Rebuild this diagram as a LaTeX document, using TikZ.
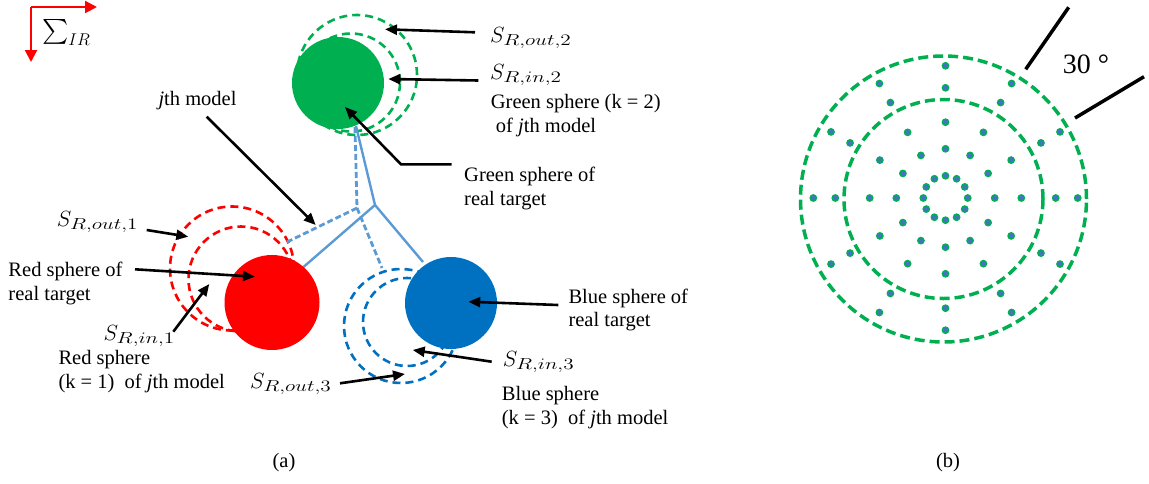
\RequirePackage{fix-cm}
\documentclass[tikz,border=0pt]{standalone}
\usepackage{exscale}
\usepackage[no-math]{fontspec}
\setmainfont{Liberation Serif}
\usetikzlibrary{arrows.meta,calc}

\DeclareMathSizes{22}{22}{16}{11}
\DeclareMathSizes{28}{28}{17}{12}

\definecolor{sgreen}{HTML}{00B050}
\definecolor{sred}{HTML}{FF0000}
\definecolor{sblue}{HTML}{0070C0}
\definecolor{linkblue}{HTML}{5B9BD5}
\definecolor{dotblue}{HTML}{4472C4}

% shell label S_{R,...} with a widened subscript
\newcommand{\shelllab}[1]{$S_{\scalebox{1.33}[1]{$\scriptstyle #1$}}$}

\tikzset{
  txt/.style={inner sep=0pt, anchor=base west, align=left,
    font=\fontsize{20.5}{23.8}\selectfont},
  mlab/.style={inner sep=0pt, anchor=base west, font=\fontsize{22}{26}\selectfont},
  callout/.style={black, line width=2.6pt, -{Triangle[length=12pt,width=10pt]}},
  sphere/.style={circle, inner sep=0pt, minimum size=#1},
  shell/.style={line width=2.6pt, dash pattern=on 8pt off 5pt},
  link/.style={linkblue, line width=2.4pt},
  linkd/.style={linkblue, line width=2.8pt, dash pattern=on 6pt off 3pt},
  frameaxis/.style={sred, line width=2pt, -{Triangle[length=12pt,width=12pt]}},
  ring/.style={sgreen, line width=3.5pt, dash pattern=on 10pt off 5pt},
  pointmark/.style={fill=dotblue, draw=sgreen, line width=1.3pt},
  ray/.style={black, line width=3.5pt},
}

\begin{document}
\begin{tikzpicture}[x=1pt, y=-1pt]
\useasboundingbox (0,0) rectangle (1149,483);

% ---------- reference frame ----------
\coordinate (fo) at (31,7);
\coordinate (fx) at (97,7);
\coordinate (fy) at (31,62);
\draw[frameaxis] (fo) -- (fx);
\draw[frameaxis] (fo) -- (fy);
\node[inner sep=0pt, anchor=base west, font=\fontsize{28}{32}\selectfont] (sig) at (42,39) {$\sum_{IR}$};

% ---------- model shells (dashed) ----------
\draw[shell, sgreen] (357,75) circle (60pt);
\draw[shell, sgreen] (351,82.5) circle (49pt);
\draw[shell, sred] (232,268.5) circle (62pt);
\draw[shell, sred] (241,279) circle (52.5pt);
\draw[shell, sblue] (401,326) circle (57pt);
\draw[shell, sblue] (407,322) circle (44pt);

% ---------- model skeleton (dashed) and target skeleton (solid) ----------
\coordinate (mj) at (357,208);
\coordinate (mg) at (355,127);
\coordinate (mr) at (285,243);
\coordinate (mb) at (382,268);
\draw[linkd] (mg) -- (mj) -- (mr);
\draw[linkd] (mj) -- (mb);

\coordinate (tj) at (375,205);
\coordinate (tg) at (356,126);
\coordinate (tr) at (300,270);
\coordinate (tb) at (423,262);
\draw[link] (tg) -- (tj) -- (tr);
\draw[link] (tj) -- (tb);

% ---------- target spheres ----------
\node[sphere=92pt, fill=sgreen] (gs) at (338,83) {};
\node[sphere=95pt, fill=sred] (rs) at (272,302.5) {};
\node[sphere=92pt, fill=sblue] (bs) at (451,303) {};

% ---------- green labels ----------
\node[mlab] (gout) at (490,42) {\shelllab{R,out,2}};
\node[mlab] (gin) at (490,79.5) {\shelllab{R,in,2}};
\node[txt] (gmod) at (490.7,132.5) {Green sphere (k = 2)\\\hspace{5pt}of \textit{j}th model};
\node[txt] (greal) at (464,205) {Green sphere of\\real target};
\coordinate (goutA) at (475,32.3);  \coordinate (goutB) at (385,29.3);
\coordinate (ginA) at (478.3,80.5); \coordinate (ginB) at (388.3,79);
\coordinate (grA) at (451.7,164.3); \coordinate (grK) at (401,164.3); \coordinate (grB) at (345,107);
\draw[callout] (goutA) -- (goutB);
\draw[callout] (ginA) -- (ginB);
\draw[callout] (grA) -- (grK) -- (grB);

% ---------- j-th model label ----------
\node[txt] (jm) at (158.3,105) {\textit{j}th model};
\coordinate (jmA) at (206.7,116.7); \coordinate (jmB) at (315.7,225);
\draw[callout] (jmA) -- (jmB);

% ---------- red labels ----------
\node[mlab] (rout) at (56.7,226) {\shelllab{R,out,1}};
\node[mlab] (rin) at (103.3,340.5) {\shelllab{R,in,1}};
\node[txt] (rreal) at (8.3,300) {Red sphere of\\real target};
\node[txt] (rmod) at (58.3,388.5) {Red sphere\\(k = 1)\ \ of \textit{j}th model};
\coordinate (routA) at (146.7,230); \coordinate (routB) at (188.3,236.7);
\coordinate (rrA) at (135,269.3);   \coordinate (rrB) at (255,276.7);
\coordinate (rinA) at (173.3,331.7); \coordinate (rinB) at (209.3,284);
\draw[callout] (routA) -- (routB);
\draw[callout] (rrA) -- (rrB);
\draw[callout] (rinA) -- (rinB);

% ---------- blue labels ----------
\node[mlab] (bout) at (250,388) {\shelllab{R,out,3}};
\node[mlab] (bin) at (502.7,366) {\shelllab{R,in,3}};
\node[txt] (breal) at (568.3,326.8) {Blue sphere of\\real target};
\node[txt] (bmod) at (501.7,424.5) {Blue sphere\\(k = 3)\ \ of \textit{j}th model};
\coordinate (boutA) at (340,383.3); \coordinate (boutB) at (405,374);
\coordinate (brA) at (558.3,305);   \coordinate (brB) at (468.3,301.7);
\coordinate (binA) at (491.7,361.7); \coordinate (binB) at (412.7,350);
\draw[callout] (boutA) -- (boutB);
\draw[callout] (brA) -- (brB);
\draw[callout] (binA) -- (binB);

\node[font=\fontsize{20.5}{23.5}\selectfont, inner sep=0pt] (capa) at (284,463) {(a)};

% ---------- (b): sampling pattern ----------
\coordinate (rc) at (943.5,199);
\draw[ring] (rc) circle (143pt);
\draw[ring] (rc) circle (99.5pt);
\coordinate (dc) at (945.5,198);
\foreach \a in {0,30,...,330}
  \foreach \r in {22.2,49.2,75.8,110.2,132.2}
    \filldraw[pointmark] ($(dc)+(\a:\r)$) circle (3.2pt);

\coordinate (r1a) at (1025.7,69.3); \coordinate (r1b) at (1068.7,7.3);
\coordinate (r2a) at (1075,118);    \coordinate (r2b) at (1144,76.7);
\draw[ray] (r1a) -- (r1b);
\draw[ray] (r2a) -- (r2b);
\node[font=\fontsize{28}{32}\selectfont, inner sep=0pt] (ang) at (1086,64.5) {30 °};

\node[font=\fontsize{20.5}{23.5}\selectfont, inner sep=0pt] (capb) at (948,463) {(b)};
\end{tikzpicture}
\end{document}
